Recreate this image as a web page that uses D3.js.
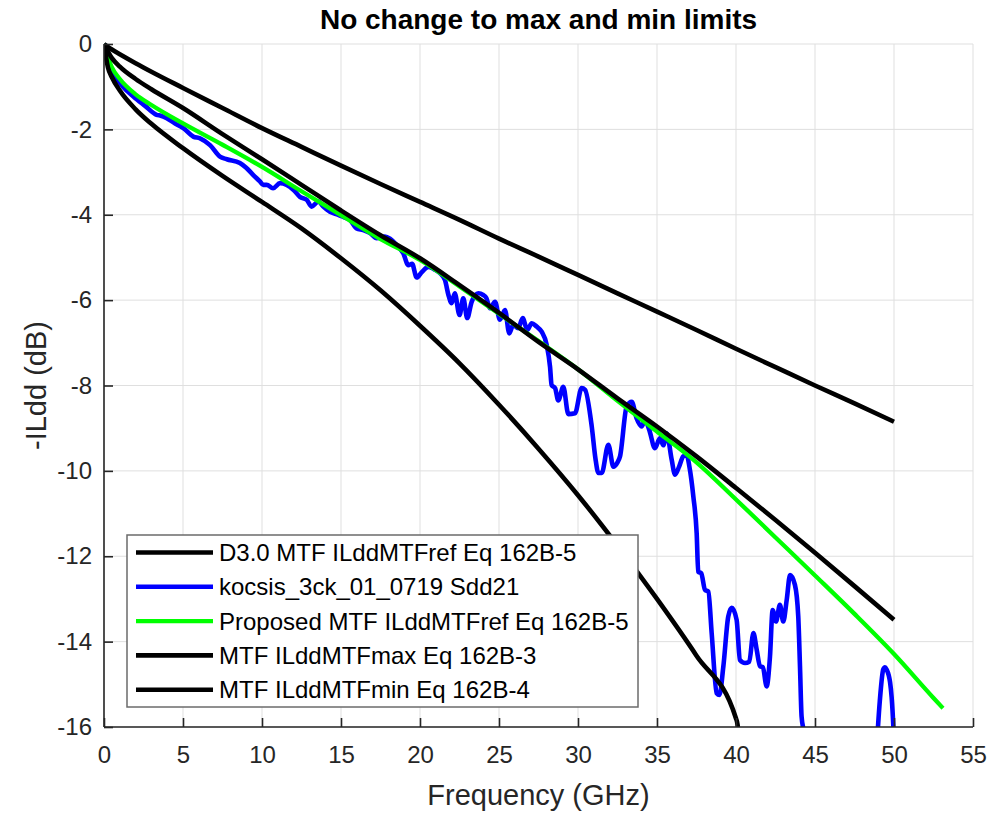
<!DOCTYPE html>
<html><head><meta charset="utf-8">
<script src="https://cdn.jsdelivr.net/npm/d3@7"></script>
<style>body{margin:0;background:#fff}svg{display:block}text{font-family:Arial,"Liberation Sans",Helvetica,sans-serif}</style>
</head><body>
<svg id="c" width="988" height="813"></svg>
<script>
// ---- data ----
const xTicks = [0,5,10,15,20,25,30,35,40,45,50,55];
const yTicks = [0,-2,-4,-6,-8,-10,-12,-14,-16];

const fD30 = [0,0.5,1,2,3,5,7.5,10,12.5,15,17.5,20,22.5,25,27.5,30,32.5,35,37.5,40,42.5,45,47.5,50];
const d30  = [0,-0.13,-0.24,-0.45,-0.65,-1.03,-1.50,-1.97,-2.41,-2.85,-3.28,-3.70,-4.12,-4.56,-4.98,-5.41,-5.84,-6.27,-6.70,-7.14,-7.57,-8.0,-8.42,-8.85];

const fMax = [0,0.5,1,2,3,5,7.5,10,12.5,15,17.5,20,22.5,25,27.5,30,32.5,35,37.5,40,42.5,45,47.5,50];
const ilMax = [0,-0.33,-0.53,-0.82,-1.06,-1.50,-2.11,-2.70,-3.30,-3.90,-4.48,-5.02,-5.65,-6.30,-6.98,-7.62,-8.30,-8.96,-9.66,-10.40,-11.15,-11.92,-12.70,-13.49];

const fProp = [0,0.5,1,2,3,5,7.5,10,12.5,15,17.5,20,22.5,25,27.5,30,32.5,35,37.5,40,42.5,45,47.5,50,52.5,53.1];
const ilProp = [0,-0.55,-0.82,-1.18,-1.43,-1.86,-2.36,-2.88,-3.45,-4.01,-4.57,-5.06,-5.68,-6.32,-6.96,-7.62,-8.36,-9.08,-9.80,-10.67,-11.56,-12.45,-13.35,-14.29,-15.32,-15.56];

const fMin = [0,0.25,0.5,1,2,3,5,7.5,10,12.5,15,17.5,20,22.5,25,27.5,30,32.5,35,37.5,40,40.1,40.3];
const ilMin = [0,-0.55,-0.78,-1.09,-1.53,-1.87,-2.44,-3.09,-3.70,-4.32,-5.02,-5.77,-6.60,-7.48,-8.45,-9.48,-10.57,-11.75,-13.0,-14.33,-15.80,-15.95,-17.5];

const fMeas = [0,0.2,0.59,1.2,1.86,2.6,3.33,3.6,3.97,4.5,5.02,5.65,6.08,6.71,7.34,7.77,8.6,9.0,9.45,9.87,10.08,10.3,10.7,11.14,11.56,12.0,12.4,12.83,13.14,13.57,13.88,14.3,14.83,15.2,15.57,15.99,16.4,16.84,17.26,17.78,18.1,18.52,18.94,19.26,19.5,19.79,20.1,20.53,20.9,21.27,21.58,21.8,22.0,22.2,22.5,22.74,22.99,23.27,23.69,24.0,24.2,24.43,24.75,25.06,25.38,25.65,25.9,26.22,26.5,26.79,27.07,27.38,27.7,28.02,28.23,28.33,28.55,28.75,29.07,29.39,29.81,30.23,30.45,30.87,31.1,31.29,31.5,31.92,32.24,32.5,32.66,33.08,33.4,33.71,34.03,34.24,34.51,34.87,35.19,35.4,35.61,35.93,36.14,36.4,36.66,36.88,37.05,37.3,37.51,37.61,37.8,38.04,38.25,38.46,38.78,38.95,39.2,39.51,39.73,40.04,40.25,40.57,40.84,41.1,41.31,41.52,41.7,41.94,42.15,42.32,42.53,42.78,42.99,43.21,43.42,43.73,43.94,44.05,44.15,44.37,44.6,45.5,47,48.5,48.9,49.1,49.32,49.43,49.53,49.75,49.85,49.96,50.1];
const ilMeas = [0,-0.38,-0.69,-1.0,-1.23,-1.45,-1.66,-1.68,-1.74,-1.86,-1.97,-2.17,-2.21,-2.37,-2.64,-2.70,-2.79,-2.90,-3.07,-3.22,-3.30,-3.30,-3.38,-3.26,-3.30,-3.42,-3.58,-3.65,-3.81,-3.69,-3.81,-3.93,-4.0,-4.06,-4.12,-4.32,-4.36,-4.43,-4.55,-4.51,-4.56,-4.71,-4.90,-5.18,-5.15,-5.47,-5.35,-5.22,-5.28,-5.37,-5.53,-5.88,-6.07,-5.84,-6.35,-5.96,-6.42,-6.04,-5.84,-5.88,-5.95,-6.19,-6.04,-6.46,-6.23,-6.78,-6.58,-6.66,-6.42,-6.70,-6.54,-6.62,-6.74,-7.05,-7.56,-7.99,-8.06,-8.35,-8.03,-8.67,-8.65,-8.06,-8.10,-8.96,-9.70,-10.05,-10.05,-9.39,-9.90,-9.80,-9.66,-8.49,-8.38,-8.77,-8.96,-8.81,-9.04,-9.47,-9.23,-9.40,-9.12,-9.74,-10.09,-9.90,-9.66,-9.63,-9.90,-10.60,-11.46,-12.36,-12.40,-12.79,-12.83,-13.80,-15.21,-15.25,-14.58,-13.41,-13.21,-13.49,-14.43,-14.50,-14.47,-13.80,-14.19,-14.58,-14.60,-15.05,-14.35,-13.26,-13.53,-13.14,-13.53,-13.02,-12.44,-12.67,-13.41,-14.58,-15.75,-16.30,-18,-20,-21,-19,-16.5,-15.4,-14.65,-14.6,-14.65,-14.95,-15.3,-16.0,-17.5];

const legendLabels = ["D3.0 MTF ILddMTFref Eq 162B-5","kocsis_3ck_01_0719 Sdd21","Proposed MTF ILddMTFref Eq 162B-5","MTF ILddMTFmax Eq 162B-3","MTF ILddMTFmin Eq 162B-4"];
const seriesColors = ["#000000","#0000ff","#00ff00","#000000","#000000"];

// ---- layout ----
const svg = d3.select("#c");
const L = 104, R = 973, T = 44, B = 727;
const x = d3.scaleLinear().domain([0,55]).range([L,R]);
const y = d3.scaleLinear().domain([-16,0]).range([B,T]);
const ink = "#262626";

// grid
const g = svg.append("g");
g.selectAll(".gx").data(xTicks).join("line").attr("x1",d=>x(d)).attr("x2",d=>x(d)).attr("y1",T).attr("y2",B).attr("stroke","#dfdfdf").attr("stroke-width",1);
g.selectAll(".gy").data(yTicks).join("line").attr("y1",d=>y(d)).attr("y2",d=>y(d)).attr("x1",L).attr("x2",R).attr("stroke","#dfdfdf").attr("stroke-width",1);

// clip
svg.append("clipPath").attr("id","clip").append("rect").attr("x",L).attr("y",T-3).attr("width",R-L).attr("height",B-T+3);

const series = [
  {f:fD30, v:d30, c:seriesColors[0], w:4.6},
  {f:fMeas, v:ilMeas, c:seriesColors[1], w:4.6},
  {f:fProp, v:ilProp, c:seriesColors[2], w:4.3},
  {f:fMax, v:ilMax, c:seriesColors[3], w:4.6},
  {f:fMin, v:ilMin, c:seriesColors[4], w:4.6}
];
const lg = svg.append("g").attr("clip-path","url(#clip)");
series.forEach(s=>{
  const pts = s.f.map((f,i)=>[f,s.v[i]]);
  const line = d3.line().x(d=>x(d[0])).y(d=>y(d[1])).curve(d3.curveMonotoneX);
  lg.append("path").attr("d",line(pts)).attr("fill","none").attr("stroke",s.c).attr("stroke-width",s.w).attr("stroke-linejoin","round");
});

// axes
const xAxis = d3.axisBottom(x).tickValues(xTicks).tickSize(-9).tickPadding(19).tickFormat(d3.format("d"));
const yAxis = d3.axisLeft(y).tickValues(yTicks).tickSize(-9).tickPadding(12).tickFormat(d=>d===0?"0":d3.format("d")(d).replace("−","-"));
const ax = svg.append("g").attr("transform",`translate(0,${B})`).call(xAxis);
const ay = svg.append("g").attr("transform",`translate(${L},0)`).call(yAxis);
[ax,ay].forEach(a=>{
  a.select(".domain").attr("stroke",ink).attr("stroke-width",1.6);
  a.selectAll(".tick line").attr("stroke",ink).attr("stroke-width",1.6);
  a.selectAll(".tick text").attr("fill",ink).style("font-size","24px").style("font-family","Arial,'Liberation Sans',sans-serif");
});
ay.select(".domain").attr("d",`M0,${B}V${T}`);
ax.select(".domain").attr("d",`M${L},0H${R}`);

// labels
svg.append("text").attr("x",(L+R)/2).attr("y",805).attr("text-anchor","middle").attr("fill",ink).style("font-size","29px").text("Frequency (GHz)");
svg.append("text").attr("transform",`translate(46,${(T+B)/2}) rotate(-90)`).attr("text-anchor","middle").attr("fill",ink).style("font-size","29px").text("-ILdd (dB)");
svg.append("text").attr("x",(L+R)/2).attr("y",29).attr("text-anchor","middle").attr("fill","#000").style("font-size","28px").style("font-weight","bold").text("No change to max and min limits");

// legend
const LX = 127, LY = 535, LW = 511, LH = 172;
const leg = svg.append("g");
leg.append("rect").attr("x",LX).attr("y",LY).attr("width",LW).attr("height",LH).attr("fill","#fff").attr("stroke","#6b6b6b").attr("stroke-width",1.5);
legendLabels.forEach((lab,i)=>{
  const yy = LY + 17.5 + i*34.3;
  leg.append("line").attr("x1",LX+9).attr("x2",LX+86).attr("y1",yy).attr("y2",yy).attr("stroke",seriesColors[i]).attr("stroke-width",i===2?4.3:4.6);
  leg.append("text").attr("x",LX+92).attr("y",yy+8.5).attr("fill","#000").style("font-size","24px").text(lab);
});
</script>
</body></html>
